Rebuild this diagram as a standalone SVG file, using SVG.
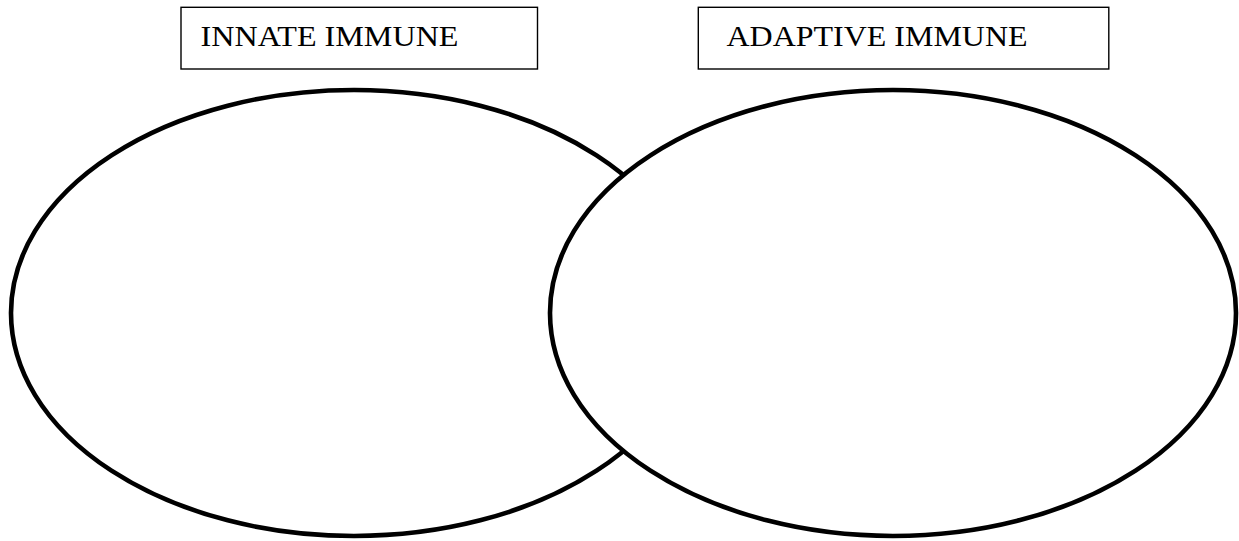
<svg xmlns="http://www.w3.org/2000/svg" width="1239" height="541" viewBox="0 0 1239 541">
<style>
.box{fill:#fff;stroke:#000;stroke-width:1.4}
.lbl{font-family:"Liberation Serif","Times New Roman",serif;font-size:30px;fill:#000}
.ell{fill:#fff;stroke:#000;stroke-width:4.6}
</style>
<rect width="1239" height="541" fill="#fff"/>
<g id="innate-label">
<rect class="box" x="181" y="7.3" width="356.5" height="61.7"/>
<text class="lbl" x="200.5" y="46" textLength="258" lengthAdjust="spacingAndGlyphs">INNATE IMMUNE</text>
</g>
<g id="adaptive-label">
<rect class="box" x="698.3" y="7.3" width="410.5" height="61.7"/>
<text class="lbl" x="726.5" y="46" textLength="301" lengthAdjust="spacingAndGlyphs">ADAPTIVE IMMUNE</text>
</g>
<g id="innate-circle">
<ellipse class="ell" cx="354" cy="313" rx="343" ry="223"/>
</g>
<g id="adaptive-circle">
<ellipse class="ell" cx="893" cy="313" rx="343" ry="223"/>
</g>
<g id="connectors"></g>
</svg>
